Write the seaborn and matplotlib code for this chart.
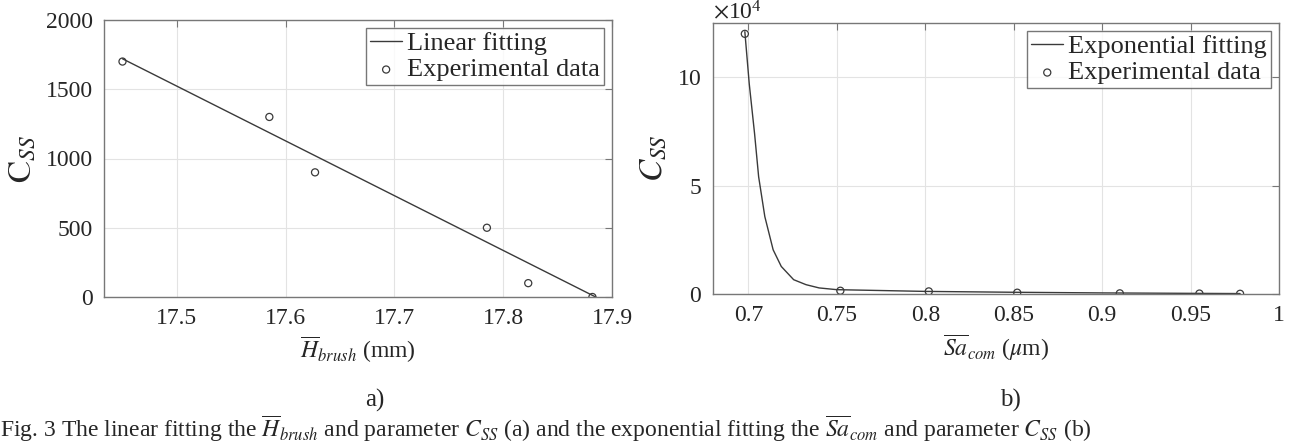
import matplotlib
matplotlib.use('Agg')
import matplotlib.pyplot as plt
import seaborn as sns

# a) linear fitting H_brush vs C_SS
h_exp = [17.450, 17.585, 17.627, 17.785, 17.823, 17.882]
c_exp_a = [1700, 1300, 900, 500, 100, 0]
h_fit = [17.450, 17.885]
c_fit_a = [1720, 0]

# b) exponential fitting Sa_com vs C_SS
sa_exp = [0.698, 0.752, 0.802, 0.852, 0.910, 0.955, 0.978]
c_exp_b = [120000, 1500, 1200, 600, 300, 200, 100]
sa_fit = [0.698, 0.7005, 0.7035, 0.7058, 0.7093, 0.714, 0.7186, 0.7256, 0.7326, 0.740, 0.750, 0.800, 0.850, 0.900, 0.950, 0.978]
c_fit_b = [121000, 96900, 74000, 54100, 35700, 20400, 12700, 6600, 4300, 2800, 2000, 1200, 800, 500, 300, 200]

sns.set_style('whitegrid')
plt.rcParams['font.family'] = ['Liberation Serif', 'DejaVu Serif']
plt.rcParams['mathtext.fontset'] = 'stix'

fig = plt.figure(figsize=(12.93, 4.45), dpi=100)
W, H = 1293, 445
ax1 = fig.add_axes([104 / W, 1 - 297 / H, (612 - 104) / W, (297 - 20) / H])
ax2 = fig.add_axes([713 / W, 1 - 294 / H, (1279 - 713) / W, (294 - 23) / H])

linecol = '#3a3a3a'

sns.lineplot(x=h_fit, y=c_fit_a, ax=ax1, color=linecol, lw=1.0, label='Linear fitting')
sns.scatterplot(x=h_exp, y=c_exp_a, ax=ax1, marker='o', s=26, facecolor='none',
                edgecolor=linecol, linewidth=0.9, label='Experimental data')
ax1.set_xlim(17.433, 17.895)
ax1.set_ylim(0, 2000)
ax1.set_xticks([17.5, 17.6, 17.7, 17.8, 17.9])
ax1.set_yticks([0, 500, 1000, 1500, 2000])
ax1.set_xlabel(r'$\overline{H}_{brush}$ (mm)', fontsize=17, labelpad=4)
ax1.set_ylabel(r'$\mathrm{C}_{SS}$', fontsize=24, labelpad=6)

sns.lineplot(x=sa_fit, y=c_fit_b, ax=ax2, color=linecol, lw=1.0, label='Exponential fitting')
sns.scatterplot(x=sa_exp, y=c_exp_b, ax=ax2, marker='o', s=26, facecolor='none',
                edgecolor=linecol, linewidth=0.9, label='Experimental data')
ax2.set_xlim(0.68, 1.0)
ax2.set_ylim(0, 125000)
ax2.set_xticks([0.7, 0.75, 0.8, 0.85, 0.9, 0.95, 1.0])
ax2.set_xticklabels(['0.7', '0.75', '0.8', '0.85', '0.9', '0.95', '1'])
ax2.set_yticks([0, 50000, 100000])
ax2.ticklabel_format(axis='y', style='sci', scilimits=(4, 4), useMathText=True)
ax2.yaxis.get_offset_text().set_fontsize(17)
ax2.set_xlabel(r'$\overline{Sa}_{com}$ ($\mu$m)', fontsize=17, labelpad=4)
ax2.set_ylabel(r'$C_{SS}$', fontsize=24, labelpad=6)

for ax in (ax1, ax2):
    ax.grid(True, color='#e3e3e3', lw=0.8)
    ax.tick_params(axis='both', direction='in', labelsize=17, length=5,
                   color='#777777', top=True, right=True, pad=8)
    for sp in ax.spines.values():
        sp.set_color('#777777')
        sp.set_linewidth(1.0)
    leg = ax.legend(loc='upper right', fontsize=19, frameon=True, fancybox=False,
                    edgecolor='#555555', handlelength=1.2, handletextpad=0.2,
                    borderpad=0.15, labelspacing=0.1, borderaxespad=0.3)
    leg.get_frame().set_linewidth(1.0)

fig.text(375 / W, 1 - 400 / H, 'a)', fontsize=18, ha='center', va='center')
fig.text(1010 / W, 1 - 400 / H, 'b)', fontsize=18, ha='center', va='center')
fig.text(0.0, 0.003,
         r'Fig. 3 The linear fitting the $\overline{H}_{brush}$ and parameter $C_{SS}$ (a) '
         r'and the exponential fitting the $\overline{Sa}_{com}$ and parameter $C_{SS}$ (b)',
         fontsize=17, ha='left', va='bottom')

fig.savefig('out.png', dpi=100)
